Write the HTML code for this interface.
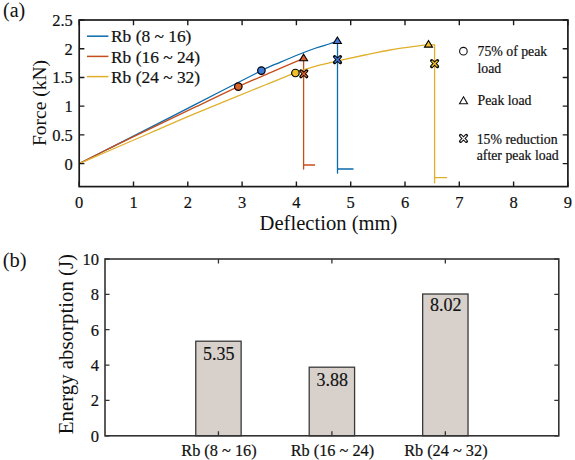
<!DOCTYPE html><html><head><meta charset="utf-8"><style>
html,body{margin:0;padding:0;background:#fff;}
body{width:575px;height:460px;overflow:hidden;}
svg{display:block;font-family:"Liberation Serif", serif;} .s{stroke:#111;stroke-width:0.2px;} .m{stroke:#111;stroke-width:0.15px;}
</style></head><body>
<svg width="575" height="460" viewBox="0 0 575 460">
<rect width="575" height="460" fill="#fff"/>
<path d="M79.2,163.62 C83.5,161.43 96.53,154.79 105,150.5 C113.47,146.21 115,145.55 130,137.9 C145,130.25 173.1,115.82 195,104.6 C216.9,93.38 247.23,77.63 261.4,70.6 C275.57,63.57 273.57,65.17 280,62.4 C286.43,59.63 294,56.4 300,54 C306,51.6 311.17,49.67 316,48 C320.83,46.33 325.43,45.13 329,44 C332.57,42.87 336,41.67 337.4,41.2 L337.5,41.2 L337.5,173.2 L337.5,168.9 L353.5,169" fill="none" stroke="#0a6aab" stroke-width="1.3" stroke-linejoin="round"/>
<path d="M79.2,163.62 C83.5,161.43 96.53,154.72 105,150.5 C113.47,146.28 115,145.52 130,138.3 C145,131.08 176.95,115.82 195,107.2 C213.05,98.58 225.63,92.4 238.3,86.6 C250.97,80.8 260.12,77.12 271,72.4 C281.88,67.68 298.17,60.65 303.6,58.3 L303.6,58.3 L303.6,169 L303.6,165 L315,165" fill="none" stroke="#c64d1c" stroke-width="1.3" stroke-linejoin="round"/>
<path d="M79.2,163.62 C91,158.52 130.7,141.34 150,133 C169.3,124.66 175.83,121.6 195,113.6 C214.17,105.6 248.27,91.8 265,85 C281.73,78.2 287.07,75.92 295.4,72.8 C303.73,69.68 307.57,68.37 315,66.3 C322.43,64.23 331.67,62.28 340,60.4 C348.33,58.52 356.67,56.73 365,55 C373.33,53.27 381.67,51.43 390,50 C398.33,48.57 408.58,47.3 415,46.4 C421.42,45.5 426.25,44.9 428.5,44.6 L434.6,44.8 L434.6,182.8 L434.6,177.6 L447.2,177.6" fill="none" stroke="#e0b02c" stroke-width="1.3" stroke-linejoin="round"/>
<circle cx="238.3" cy="86.6" r="3.75" fill="#d9622b" stroke="#000" stroke-width="1.2"/>
<circle cx="261.4" cy="70.6" r="3.75" fill="#3f7ad9" stroke="#000" stroke-width="1.2"/>
<circle cx="295.4" cy="73" r="3.75" fill="#f0c02c" stroke="#000" stroke-width="1.2"/>
<path d="M303.6,54.17 L307.6,60.77 L299.6,60.77 Z" fill="#d9622b" stroke="#000" stroke-width="1.1" stroke-linejoin="miter"/>
<path d="M337.4,36.97 L341.4,43.57 L333.4,43.57 Z" fill="#3f7ad9" stroke="#000" stroke-width="1.1" stroke-linejoin="miter"/>
<path d="M428.5,40.57 L432.5,47.17 L424.5,47.17 Z" fill="#f0c02c" stroke="#000" stroke-width="1.1" stroke-linejoin="miter"/>
<path d="M300.9,70.9 L306.7,76.7 M300.9,76.7 L306.7,70.9" stroke="#000" stroke-width="3.3" stroke-linecap="round" fill="none"/>
<path d="M300.9,70.9 L306.7,76.7 M300.9,76.7 L306.7,70.9" stroke="#d9622b" stroke-width="1.4" stroke-linecap="butt" fill="none"/>
<path d="M334.6,56.7 L340.4,62.5 M334.6,62.5 L340.4,56.7" stroke="#000" stroke-width="3.3" stroke-linecap="round" fill="none"/>
<path d="M334.6,56.7 L340.4,62.5 M334.6,62.5 L340.4,56.7" stroke="#3f7ad9" stroke-width="1.4" stroke-linecap="butt" fill="none"/>
<path d="M431.7,60.7 L437.5,66.5 M431.7,66.5 L437.5,60.7" stroke="#000" stroke-width="3.3" stroke-linecap="round" fill="none"/>
<path d="M431.7,60.7 L437.5,66.5 M431.7,66.5 L437.5,60.7" stroke="#f0c02c" stroke-width="1.4" stroke-linecap="butt" fill="none"/>
<rect x="79.2" y="20" width="488.7" height="166.6" fill="none" stroke="#1a1a1a" stroke-width="1.7"/>
<path d="M79.2,186.6 v-5.2 M79.2,20 v5.2 M133.5,186.6 v-5.2 M133.5,20 v5.2 M187.8,186.6 v-5.2 M187.8,20 v5.2 M242.1,186.6 v-5.2 M242.1,20 v5.2 M296.4,186.6 v-5.2 M296.4,20 v5.2 M350.7,186.6 v-5.2 M350.7,20 v5.2 M405,186.6 v-5.2 M405,20 v5.2 M459.3,186.6 v-5.2 M459.3,20 v5.2 M513.6,186.6 v-5.2 M513.6,20 v5.2 M567.9,186.6 v-5.2 M567.9,20 v5.2 M79.2,163.62 h5.2 M567.9,163.62 h-5.2 M79.2,134.9 h5.2 M567.9,134.9 h-5.2 M79.2,106.17 h5.2 M567.9,106.17 h-5.2 M79.2,77.45 h5.2 M567.9,77.45 h-5.2 M79.2,48.72 h5.2 M567.9,48.72 h-5.2 M79.2,20 h5.2 M567.9,20 h-5.2" stroke="#1a1a1a" stroke-width="1.4" fill="none"/>
<text x="79.2" y="208.4" font-size="16.5" text-anchor="middle" fill="#111" class="s">0</text>
<text x="133.5" y="208.4" font-size="16.5" text-anchor="middle" fill="#111" class="s">1</text>
<text x="187.8" y="208.4" font-size="16.5" text-anchor="middle" fill="#111" class="s">2</text>
<text x="242.1" y="208.4" font-size="16.5" text-anchor="middle" fill="#111" class="s">3</text>
<text x="296.4" y="208.4" font-size="16.5" text-anchor="middle" fill="#111" class="s">4</text>
<text x="350.7" y="208.4" font-size="16.5" text-anchor="middle" fill="#111" class="s">5</text>
<text x="405" y="208.4" font-size="16.5" text-anchor="middle" fill="#111" class="s">6</text>
<text x="459.3" y="208.4" font-size="16.5" text-anchor="middle" fill="#111" class="s">7</text>
<text x="513.6" y="208.4" font-size="16.5" text-anchor="middle" fill="#111" class="s">8</text>
<text x="567.9" y="208.4" font-size="16.5" text-anchor="middle" fill="#111" class="s">9</text>
<text x="72.8" y="169.62" font-size="16.5" text-anchor="end" fill="#111" class="s">0</text>
<text x="72.8" y="140.9" font-size="16.5" text-anchor="end" fill="#111" class="s">0.5</text>
<text x="72.8" y="112.17" font-size="16.5" text-anchor="end" fill="#111" class="s">1</text>
<text x="72.8" y="83.45" font-size="16.5" text-anchor="end" fill="#111" class="s">1.5</text>
<text x="72.8" y="54.72" font-size="16.5" text-anchor="end" fill="#111" class="s">2</text>
<text x="72.8" y="26" font-size="16.5" text-anchor="end" fill="#111" class="s">2.5</text>
<text x="259.6" y="230" font-size="20.6" fill="#111">Deflection (mm)</text>
<text transform="translate(46.3,146) rotate(-90)" font-size="19.5" fill="#111">Force (kN)</text>
<text x="3" y="17" font-size="20" fill="#111">(a)</text>
<line x1="87" y1="36.2" x2="108.4" y2="36.2" stroke="#0a6aab" stroke-width="1.5"/>
<text x="111" y="42.4" font-size="17.4" fill="#111" class="s">Rb (8 ~ 16)</text>
<line x1="87" y1="56.4" x2="108.4" y2="56.4" stroke="#c64d1c" stroke-width="1.5"/>
<text x="111" y="62.6" font-size="17.4" fill="#111" class="s">Rb (16 ~ 24)</text>
<line x1="87" y1="76.6" x2="108.4" y2="76.6" stroke="#e0b02c" stroke-width="1.5"/>
<text x="111" y="82.8" font-size="17.4" fill="#111" class="s">Rb (24 ~ 32)</text>
<circle cx="463.4" cy="51.2" r="3.8" fill="none" stroke="#111" stroke-width="1.1"/>
<text x="477.5" y="56" font-size="13.8" fill="#111" class="s">75% of peak</text>
<text x="477.5" y="73" font-size="13.8" fill="#111" class="s">load</text>
<path d="M463.5,96.8 L467.5,103.8 L459.5,103.8 Z" fill="none" stroke="#111" stroke-width="1.1"/>
<text x="477.5" y="105" font-size="13.8" fill="#111" class="s">Peak load</text>
<path d="M460.6,135.5 L466.4,141.3 M460.6,141.3 L466.4,135.5" stroke="#111" stroke-width="3.3" stroke-linecap="round" fill="none"/>
<path d="M460.6,135.5 L466.4,141.3 M460.6,141.3 L466.4,135.5" stroke="#fff" stroke-width="1.2" fill="none"/>
<text x="476.7" y="143.5" font-size="13.8" fill="#111" class="s">15% reduction</text>
<text x="476.7" y="159.7" font-size="13.8" fill="#111" class="s">after peak load</text>
<rect x="195.76" y="341.21" width="45.38" height="94.59" fill="#d7d0cb" stroke="#3a3a3a" stroke-width="1.3"/>
<text x="218.75" y="360.01" font-size="18" text-anchor="middle" fill="#111" class="m">5.35</text>
<rect x="309.21" y="367.2" width="45.38" height="68.6" fill="#d7d0cb" stroke="#3a3a3a" stroke-width="1.3"/>
<text x="332.2" y="386" font-size="18" text-anchor="middle" fill="#111" class="m">3.88</text>
<rect x="422.66" y="294.01" width="45.38" height="141.79" fill="#d7d0cb" stroke="#3a3a3a" stroke-width="1.3"/>
<text x="445.65" y="310.91" font-size="18" text-anchor="middle" fill="#111" class="m">8.02</text>
<rect x="105" y="259" width="453.8" height="176.8" fill="none" stroke="#333" stroke-width="1.6"/>
<path d="M218.45,435.8 v-4.5 M218.45,259 v4.5 M331.9,435.8 v-4.5 M331.9,259 v4.5 M445.35,435.8 v-4.5 M445.35,259 v4.5 M105,435.8 h4.5 M558.8,435.8 h-4.5 M105,400.44 h4.5 M558.8,400.44 h-4.5 M105,365.08 h4.5 M558.8,365.08 h-4.5 M105,329.72 h4.5 M558.8,329.72 h-4.5 M105,294.36 h4.5 M558.8,294.36 h-4.5 M105,259 h4.5 M558.8,259 h-4.5" stroke="#333" stroke-width="1.3" fill="none"/>
<text x="99" y="441.8" font-size="16.5" text-anchor="end" fill="#111" class="s">0</text>
<text x="99" y="406.44" font-size="16.5" text-anchor="end" fill="#111" class="s">2</text>
<text x="99" y="371.08" font-size="16.5" text-anchor="end" fill="#111" class="s">4</text>
<text x="99" y="335.72" font-size="16.5" text-anchor="end" fill="#111" class="s">6</text>
<text x="99" y="300.36" font-size="16.5" text-anchor="end" fill="#111" class="s">8</text>
<text x="99" y="265" font-size="16.5" text-anchor="end" fill="#111" class="s">10</text>
<text x="218.95" y="455.6" font-size="16.3" text-anchor="middle" fill="#111" class="s">Rb (8 ~ 16)</text>
<text x="332.4" y="455.6" font-size="16.3" text-anchor="middle" fill="#111" class="s">Rb (16 ~ 24)</text>
<text x="445.85" y="455.6" font-size="16.3" text-anchor="middle" fill="#111" class="s">Rb (24 ~ 32)</text>
<text transform="translate(72.6,434.2) rotate(-90)" font-size="20.85" fill="#111">Energy absorption (J)</text>
<text x="2.8" y="266.6" font-size="20.5" fill="#111">(b)</text>
</svg></body></html>
